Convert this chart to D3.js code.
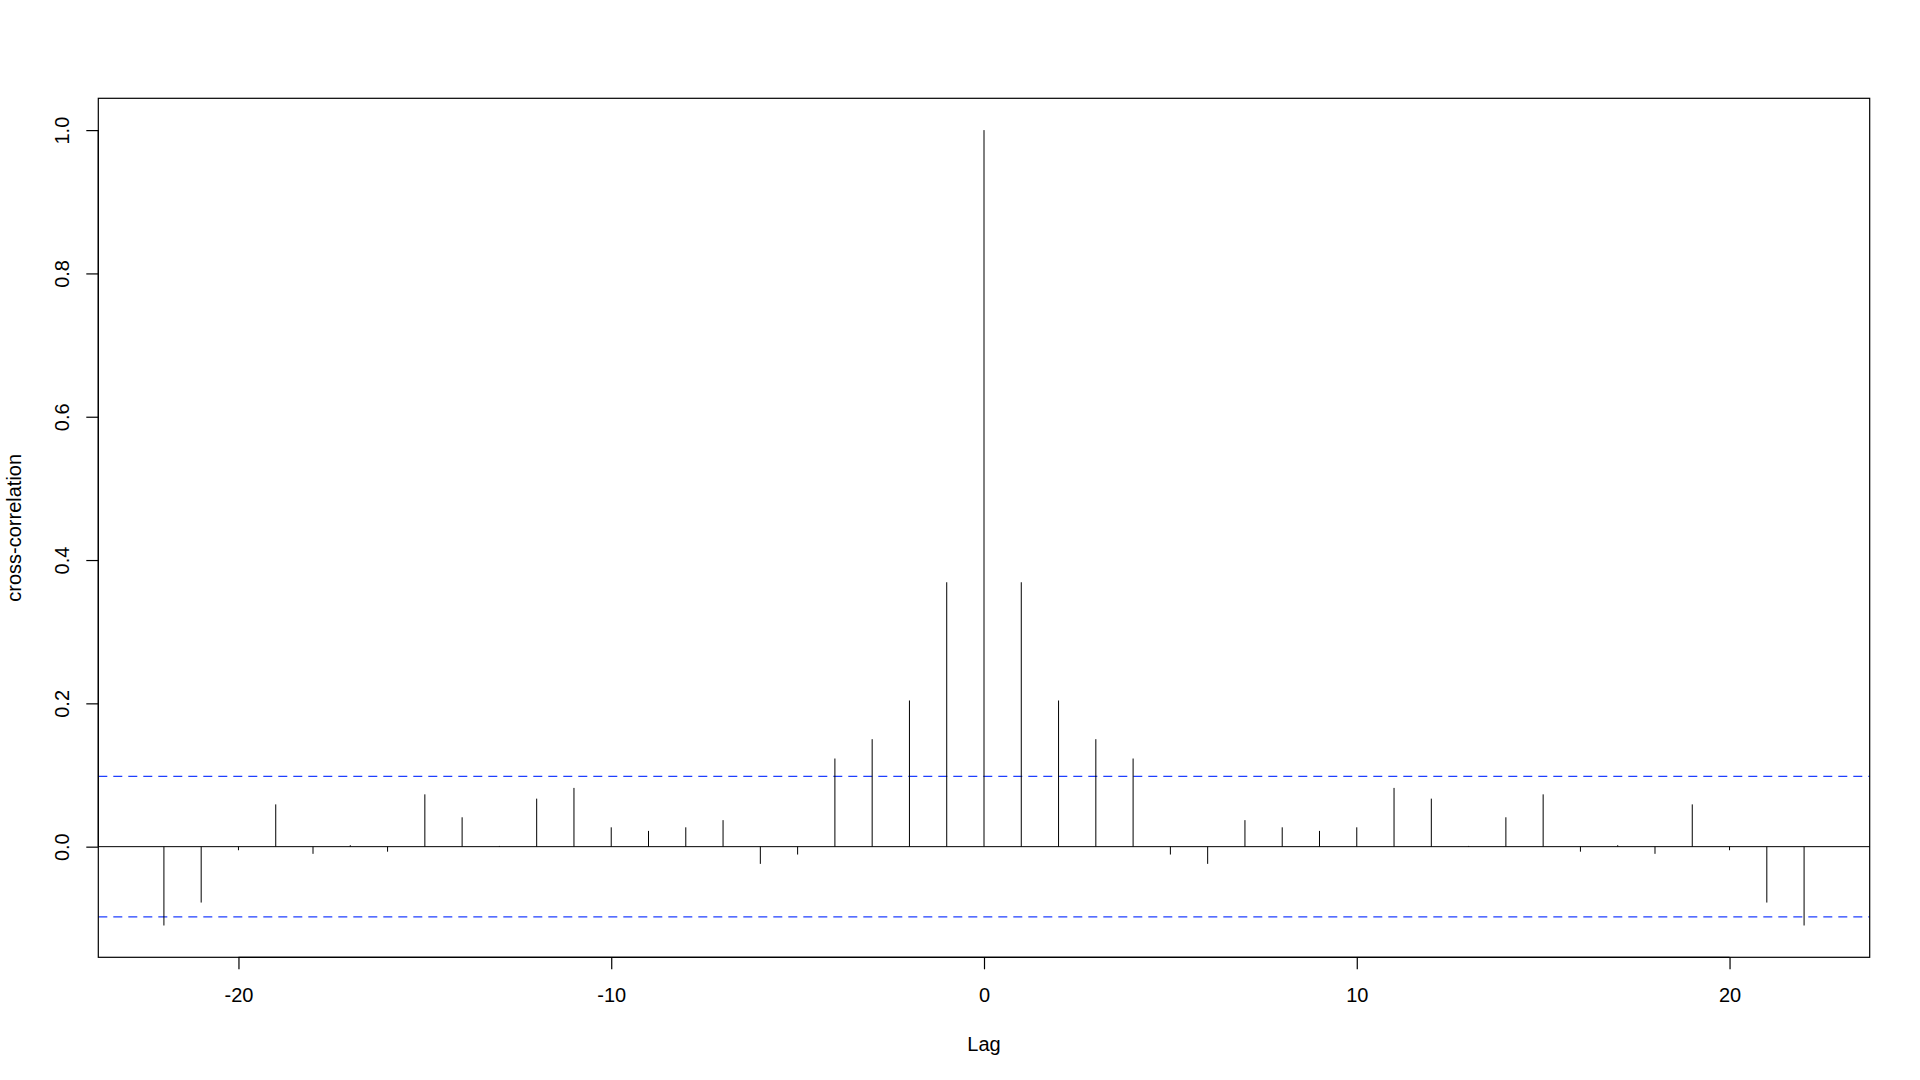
<!DOCTYPE html>
<html>
<head>
<meta charset="utf-8">
<script src="https://cdn.jsdelivr.net/npm/d3@7"></script>
<style>
html,body{margin:0;padding:0;background:#fff;}
svg{display:block;font-family:"Liberation Sans",Arial,Helvetica,sans-serif;}
</style>
</head>
<body>
<svg id="chart" width="1920" height="1080"></svg>
<script>
// Data
const lags = d3.range(-22, 23);
const ccfValues = [
  -0.110, -0.078, -0.005, 0.059, -0.010, 0.002, -0.007, 0.073, 0.041, 0.001,
  0.067, 0.082, 0.027, 0.022, 0.027, 0.037, -0.024, -0.011, 0.123, 0.150,
  0.204, 0.369, 1.000, 0.369, 0.204, 0.150, 0.123, -0.011, -0.024, 0.037,
  0.027, 0.022, 0.027, 0.082, 0.067, 0.001, 0.041, 0.073, -0.007, 0.002,
  -0.010, 0.059, -0.005, -0.078, -0.110
];
const ciBound = 0.098;
const xTicks = [-20, -10, 0, 10, 20];
const yTicks = [0.0, 0.2, 0.4, 0.6, 0.8, 1.0];
const xLabel = "Lag";
const yLabel = "cross-correlation";

(function () {
const svg = d3.select("#chart");
const pLeft = 98.3, pRight = 1869.7, pTop = 98.3, pBottom = 957.3;

const xMin = d3.min(lags), xMax = d3.max(lags);
const xPad = (xMax - xMin) * 0.04;
const yMin = Math.min(d3.min(ccfValues), -ciBound), yMax = Math.max(d3.max(ccfValues), ciBound);
const yPad = (yMax - yMin) * 0.04;

const x = d3.scaleLinear().domain([xMin - xPad, xMax + xPad]).range([pLeft, pRight]);
const y = d3.scaleLinear().domain([yMin - yPad, yMax + yPad]).range([pBottom, pTop]);

// zero line
svg.append("line")
  .attr("x1", pLeft).attr("x2", pRight)
  .attr("y1", y(0)).attr("y2", y(0))
  .attr("stroke", "#000").attr("stroke-width", 1);

// CI lines
[ciBound, -ciBound].forEach(v => {
  svg.append("line")
    .attr("x1", pLeft).attr("x2", pRight)
    .attr("y1", y(v)).attr("y2", y(v))
    .attr("stroke", "#1f3fff").attr("stroke-width", 1.2)
    .attr("stroke-dasharray", "9,6");
});

// stems
svg.append("g").selectAll("line")
  .data(lags.map((l, i) => ({lag: l, v: ccfValues[i]})))
  .join("line")
  .attr("x1", d => x(d.lag)).attr("x2", d => x(d.lag))
  .attr("y1", y(0)).attr("y2", d => y(d.v))
  .attr("stroke", "#000").attr("stroke-width", 1);

// box
svg.append("rect")
  .attr("x", pLeft).attr("y", pTop)
  .attr("width", pRight - pLeft).attr("height", pBottom - pTop)
  .attr("fill", "none").attr("stroke", "#000").attr("stroke-width", 1.2);

// x axis
const xAxis = d3.axisBottom(x).tickValues(xTicks).tickSize(12).tickPadding(0).tickFormat(d => String(d));
const gx = svg.append("g").attr("transform", `translate(0,${pBottom})`).call(xAxis);
gx.select(".domain").attr("d", `M${x(xTicks[0])},0H${x(xTicks[xTicks.length-1])}`).attr("stroke", "#000").attr("stroke-width", 1.2);
gx.selectAll(".tick line").attr("stroke", "#000").attr("stroke-width", 1.2);
gx.selectAll(".tick text")
  .attr("font-size", 20).attr("fill", "#000")
  .attr("font-family", '"Liberation Sans",Arial,sans-serif')
  .attr("dy", null).attr("y", 44.5);

// y axis
const yAxis = d3.axisLeft(y).tickValues(yTicks).tickSize(12).tickFormat(d => d.toFixed(1));
const gy = svg.append("g").attr("transform", `translate(${pLeft},0)`).call(yAxis);
gy.select(".domain").attr("d", `M0,${y(yTicks[0])}V${y(yTicks[yTicks.length-1])}`).attr("stroke", "#000").attr("stroke-width", 1.2);
gy.selectAll(".tick line").attr("stroke", "#000").attr("stroke-width", 1.2);
gy.selectAll(".tick text").remove();
gy.selectAll(".tick").append("text")
  .attr("transform", "translate(-29,0) rotate(-90)")
  .attr("text-anchor", "middle")
  .attr("font-size", 20).attr("fill", "#000")
  .attr("font-family", '"Liberation Sans",Arial,sans-serif')
  .text(d => d.toFixed(1));

// axis titles
svg.append("text")
  .attr("x", (pLeft + pRight) / 2).attr("y", 1050.5)
  .attr("text-anchor", "middle").attr("font-size", 20).attr("fill", "#000")
  .text(xLabel);

svg.append("text")
  .attr("transform", `translate(21,${(pTop + pBottom) / 2}) rotate(-90)`)
  .attr("text-anchor", "middle").attr("font-size", 20).attr("fill", "#000")
  .text(yLabel);
})();
</script>
</body>
</html>
